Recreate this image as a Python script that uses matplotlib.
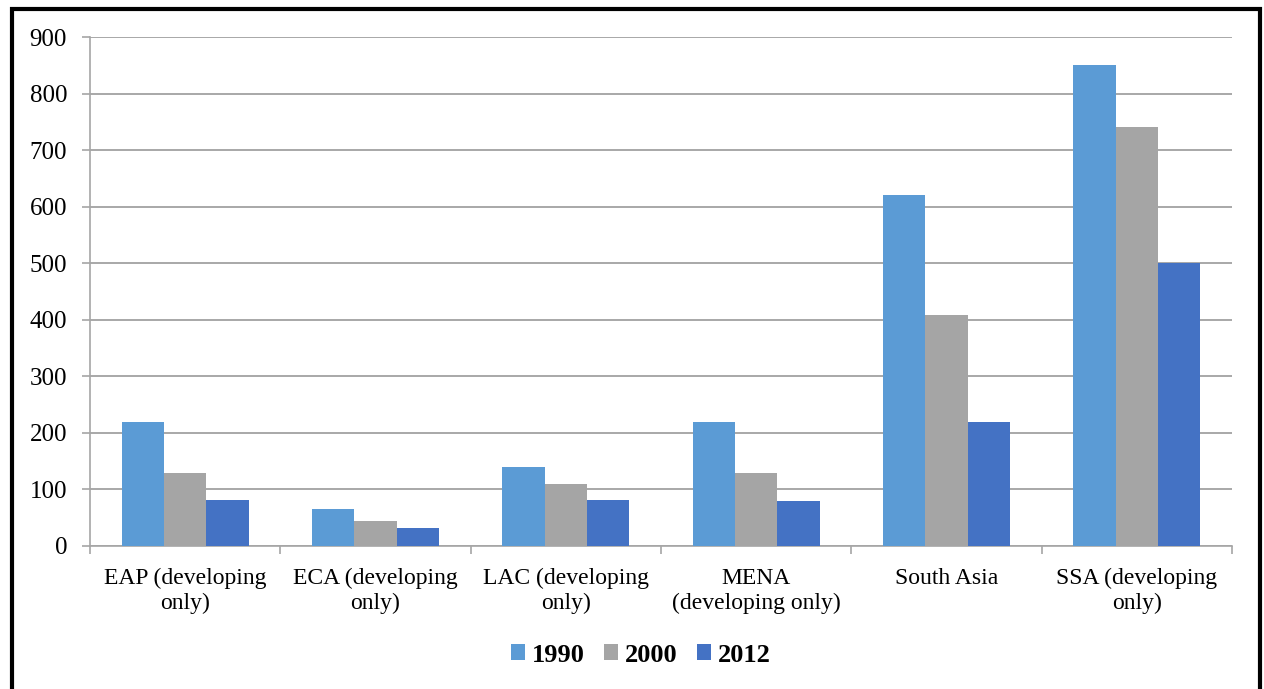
import numpy as np
import matplotlib.pyplot as plt
from matplotlib.patches import Rectangle

regions = ["EAP (developing\nonly)", "ECA (developing\nonly)", "LAC (developing\nonly)",
           "MENA\n(developing only)", "South Asia", "SSA (developing\nonly)"]
years = ["1990", "2000", "2012"]
v1990 = [220, 66, 139, 220, 620, 850]
v2000 = [129, 45, 109, 129, 409, 740]
v2012 = [82, 31, 81, 80, 220, 500]
colors = ["#5B9BD5", "#A5A5A5", "#4472C4"]

plt.rcParams['font.family'] = ['Liberation Serif', 'DejaVu Serif']

fig = plt.figure(figsize=(12.64, 6.89), dpi=100)
ax = fig.add_axes([90/1264, 1 - 546/689, (1232-90)/1264, (546-37)/689])

x = np.arange(len(regions))
w = 1 / 4.5
for i, (vals, lab) in enumerate(zip([v1990, v2000, v2012], years)):
    ax.bar(x + (i - 1) * w, vals, w, color=colors[i], label=lab, zorder=3)

ax.set_xlim(-0.5, len(regions) - 0.5)
ax.set_ylim(0, 900)
ax.set_yticks(range(0, 901, 100))
ax.set_xticks(x)
ax.set_xticklabels(regions, fontsize=17, linespacing=1.2)
ax.set_xticks(np.arange(-0.5, len(regions), 1), minor=True)
ax.tick_params(axis='x', which='major', length=0, pad=16)
ax.tick_params(axis='x', which='minor', length=6, color='#A6A6A6', width=1.2)
ax.tick_params(axis='y', length=5.5, color='#A6A6A6', width=1.2, labelsize=18, pad=11)
ax.grid(axis='y', color='#9A9A9A', linewidth=1.2, zorder=0)
for s in ['top', 'right']:
    ax.spines[s].set_visible(False)
for s in ['left', 'bottom']:
    ax.spines[s].set_color('#A6A6A6')
    ax.spines[s].set_linewidth(1.2)

leg = fig.legend(loc='center', bbox_to_anchor=(641/1264, 1 - 655/689), ncol=3, frameon=False,
                 prop={'weight': 'bold', 'size': 19}, handlelength=0.53, handleheight=0.53,
                 handletextpad=0.25, columnspacing=0.75)

fig.patches.append(Rectangle((12/1264, -0.05), (1259.5-12)/1264, 1.05 - 9/689,
                             transform=fig.transFigure, fill=False, edgecolor='black', linewidth=3))

fig.savefig("out.png", dpi=100)
